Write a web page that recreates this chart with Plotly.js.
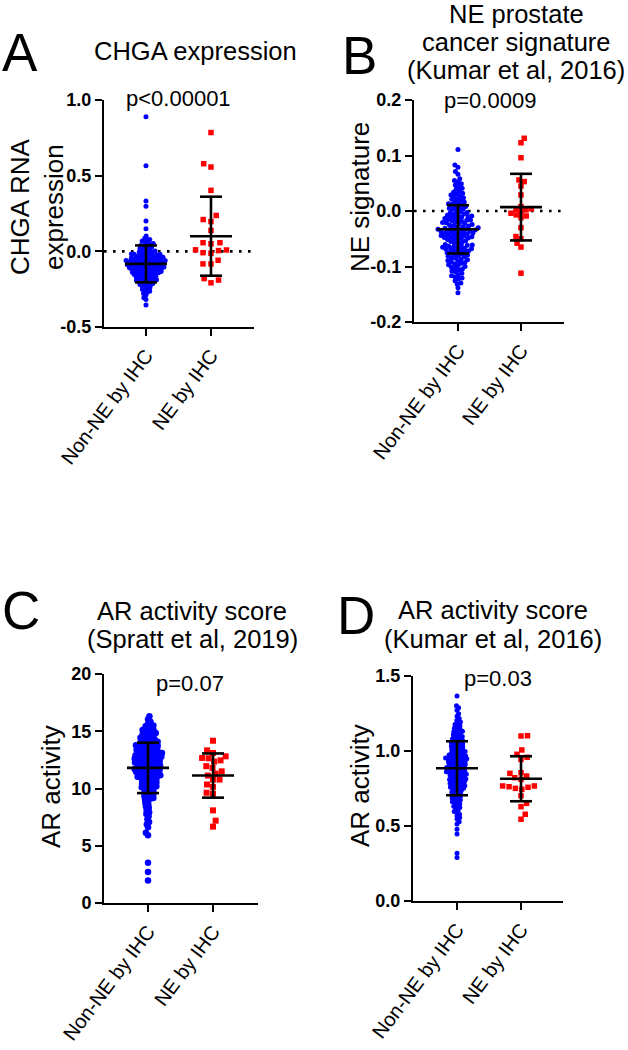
<!DOCTYPE html>
<html><head><meta charset="utf-8">
<script src="https://cdn.plot.ly/plotly-3.0.1.min.js"></script>
<style>html,body{margin:0;padding:0;background:#fff}#chart{width:628px;height:1050px}</style>
</head><body><div id="chart"></div>
<script>
// ---------------- DATA ----------------
const categories = ['Non-NE by IHC', 'NE by IHC'];

// Panel A: CHGA RNA expression
const chgaNonNE = [0.89, 0.566, 0.333, 0.298, 0.2, 0.149,
  0.102, 0.086, 0.079, 0.075, 0.068, 0.063, 0.057, 0.051,
  0.047, 0.045, 0.039, 0.038, 0.031, 0.027, 0.026, 0.019, 0.014, 0.013, 0.006, 0.002,
  -0.001, -0.005, -0.006, -0.011, -0.012, -0.013, -0.017, -0.02, -0.022, -0.024, -0.026, -0.028, -0.03,
  -0.033, -0.034, -0.036, -0.039, -0.04, -0.041, -0.044, -0.045, -0.047, -0.048, -0.049, -0.019,
  -0.051, -0.053, -0.054, -0.056, -0.057, -0.06, -0.061, -0.062, -0.064, -0.066, -0.067, -0.068,
  -0.07, -0.071, -0.073, -0.074, -0.076, -0.077, -0.078, -0.08, -0.081, -0.082, -0.084, -0.085,
  -0.088, -0.089, -0.09, -0.092, -0.093, -0.095, -0.096, -0.097, -0.098, -0.1, -0.069,
  -0.101, -0.103, -0.104, -0.105, -0.107, -0.108, -0.11, -0.112, -0.113, -0.114, -0.116, -0.118,
  -0.119, -0.121, -0.122, -0.124, -0.126, -0.127, -0.129, -0.13, -0.132, -0.134, -0.135, -0.137,
  -0.139, -0.141, -0.142, -0.144, -0.146, -0.147, -0.148, -0.111,
  -0.151, -0.153, -0.155, -0.157, -0.16, -0.162, -0.164, -0.166, -0.169, -0.171, -0.173, -0.175,
  -0.178, -0.181, -0.183, -0.186, -0.188, -0.19, -0.193, -0.195, -0.197, -0.199,
  -0.202, -0.205, -0.209, -0.212, -0.216, -0.219, -0.223, -0.227, -0.231, -0.236, -0.241, -0.246,
  -0.252, -0.258, -0.264, -0.271, -0.279, -0.288, -0.306, -0.318, -0.355];
const chgaNE = [0.785, 0.579, 0.557, 0.403, 0.237, 0.21, 0.197, 0.138, 0.057, 0.057, 0.05,
  0.009, 0.005, 0.01, -0.009, -0.013, -0.059, -0.083, -0.083, -0.18, -0.19, -0.208];
const chgaMean = [-0.083, 0.10];
const chgaSD = [0.122, 0.261];

// Panel B: NE prostate cancer signature
const neSigNonNE = [0.111, 0.083, 0.079, 0.071, 0.066,
  0.058, 0.055, 0.052, 0.049, 0.047, 0.044, 0.041, 0.039, 0.036, 0.034, 0.032, 0.031,
  0.029, 0.027, 0.026, 0.024, 0.022, 0.021, 0.019, 0.017, 0.016, 0.014, 0.012, 0.011,
  0.009, 0.008, 0.006, 0.005, 0.004, 0.003, 0.001, 0.013,
  -0.0012, -0.0025, -0.0031, -0.0048, -0.0056, -0.0069, -0.0077, -0.0088, -0.0104, -0.0112,
  -0.0121, -0.0135, -0.0142, -0.0153, -0.0161, -0.0176, -0.0183, -0.0194, -0.0207, -0.0213,
  -0.0226, -0.0232, -0.0245, -0.0251, -0.0263, -0.0271, -0.0286, -0.0293, -0.0098, -0.0168,
  -0.0302, -0.0309, -0.0315, -0.0322, -0.0328, -0.0335, -0.0341, -0.0347, -0.0356, -0.0362,
  -0.0368, -0.0375, -0.0383, -0.0389, -0.0396, -0.0404, -0.0411, -0.0418, -0.0424, -0.0433,
  -0.0441, -0.0447, -0.0455, -0.0462, -0.0469, -0.0477, -0.0486, -0.0493, -0.0501, -0.0512,
  -0.0523, -0.0534, -0.0548, -0.0561, -0.0577, -0.0592,
  -0.0603, -0.0611, -0.0619, -0.0628, -0.0637, -0.0645, -0.0652, -0.0661, -0.0669, -0.0678,
  -0.0686, -0.0694, -0.0703, -0.0712, -0.0721, -0.0733, -0.0742, -0.0751, -0.0763, -0.0772,
  -0.0784, -0.0795, -0.0806, -0.0817, -0.0829, -0.0841, -0.0853, -0.0866, -0.0879, -0.0894,
  -0.0905, -0.0917, -0.0928, -0.0942, -0.0955, -0.0969, -0.0983, -0.0998, -0.1014, -0.1031,
  -0.1047, -0.1063, -0.1082, -0.1101, -0.1123, -0.1148, -0.1165, -0.1187,
  -0.1206, -0.1224, -0.1258, -0.1297, -0.1315, -0.1382, -0.1471];
const neSigNE = [0.131, 0.123, 0.096, 0.056, 0.053, 0.045, 0.029, 0.008, 0.004, 0.003, 0.002,
  -0.002, -0.004, -0.007, -0.009, -0.012, -0.03, -0.046, -0.05, -0.058, -0.065, -0.112];
const neSigMean = [-0.033, 0.007];
const neSigSD = [0.0435, 0.06];

// Panel C: AR activity score (Spratt et al, 2019)
const arSprattNonNE = [16.3, 16.05, 15.82, 15.64, 15.51,
  15.44, 15.31, 15.26, 15.12, 15.08, 15.01,
  14.97, 14.85, 14.82, 14.71, 14.66, 14.63, 14.52, 14.44, 14.43, 14.31, 14.27, 14.19, 14.16, 14.08, 14.05, 14.01,
  13.98, 13.91, 13.87, 13.86, 13.77, 13.72, 13.7, 13.64, 13.61, 13.55, 13.54, 13.46, 13.44, 13.38,
  13.35, 13.33, 13.26, 13.22, 13.2, 13.13, 13.1, 13.08, 13.03, 13.0,
  12.97, 12.96, 12.9, 12.87, 12.86, 12.8, 12.77, 12.74, 12.73, 12.66, 12.64, 12.6, 12.59, 12.53, 12.51,
  12.47, 12.44, 12.43, 12.37, 12.34, 12.32, 12.27, 12.24, 12.22, 12.19, 12.14, 12.12, 12.07, 12.04, 12.01,
  11.98, 11.93, 11.91, 11.86, 11.84, 11.79, 11.77, 11.71, 11.68, 11.66, 11.6, 11.57, 11.55, 11.49,
  11.46, 11.44, 11.38, 11.35, 11.33, 11.27, 11.24, 11.22, 11.16, 11.14, 11.09, 11.07, 11.02, 11.0,
  10.95, 10.92, 10.85, 10.82, 10.77, 10.7, 10.67, 10.6, 10.57, 10.52, 10.45, 10.42, 10.37, 10.3,
  10.27, 10.2, 10.17, 10.1, 10.07, 10.01,
  9.96, 9.88, 9.79, 9.73, 9.63, 9.58, 9.48, 9.42, 9.32, 9.26, 9.17, 9.11, 9.02,
  8.91, 8.74, 8.62, 8.43, 8.31, 8.1, 7.92, 7.78, 7.58, 7.32, 7.08, 6.88, 6.62, 6.13,
  5.92, 3.52, 2.71, 1.96];
const arSprattNE = [14.17, 13.33, 13.1, 12.81, 12.67, 12.64, 12.46, 12.35, 11.95, 11.8, 11.5,
  11.3, 11.13, 10.78, 10.78, 10.35, 10.14, 9.63, 9.54, 8.09, 7.19, 6.67];
const arSprattMean = [11.8, 11.13];
const arSprattSD = [2.2, 1.93];

// Panel D: AR activity score (Kumar et al, 2016)
const arKumarNonNE = [1.367, 1.302, 1.288, 1.271, 1.249, 1.232,
  1.216, 1.204, 1.194, 1.185, 1.177, 1.166, 1.162, 1.151,
  1.146, 1.142, 1.131, 1.128, 1.119, 1.116, 1.108, 1.103, 1.097, 1.094, 1.086, 1.082, 1.077,
  1.071, 1.067, 1.06, 1.056, 1.051,
  1.047, 1.044, 1.039, 1.036, 1.031, 1.027, 1.024, 1.019, 1.016, 1.011, 1.007, 1.004, 0.999,
  0.996, 0.992, 0.988, 0.985, 0.981, 0.977, 0.974, 0.971, 0.967, 0.964, 0.96, 0.957, 0.955, 0.953, 0.951,
  0.948, 0.946, 0.943, 0.94, 0.937, 0.934, 0.931, 0.929, 0.926, 0.922, 0.919, 0.917, 0.913, 0.91,
  0.907, 0.904, 0.901, 0.898, 0.895, 0.893, 0.889, 0.886, 0.883, 0.88, 0.877, 0.874, 0.871, 0.868,
  0.865, 0.862, 0.859, 0.856, 0.854, 0.851,
  0.848, 0.845, 0.841, 0.838, 0.835, 0.831, 0.828, 0.824, 0.821, 0.817, 0.813, 0.81, 0.806, 0.803,
  0.799, 0.795, 0.792, 0.788, 0.784, 0.781, 0.777, 0.773, 0.769, 0.766, 0.762, 0.758, 0.755, 0.751,
  0.746, 0.741, 0.737, 0.732, 0.727, 0.722, 0.717, 0.713, 0.707, 0.702, 0.696, 0.691, 0.685, 0.679,
  0.673, 0.667, 0.661, 0.654,
  0.646, 0.638, 0.631, 0.623, 0.615, 0.606, 0.597, 0.588, 0.578, 0.567, 0.556,
  0.547, 0.528, 0.514, 0.478, 0.447, 0.318, 0.29];
const arKumarNE = [1.102, 1.10, 1.007, 0.978, 0.958, 0.944, 0.855, 0.851, 0.833, 0.822, 0.811,
  0.767, 0.767, 0.762, 0.758, 0.751, 0.745, 0.702, 0.651, 0.629, 0.578, 0.545];
const arKumarMean = [0.885, 0.815];
const arKumarSD = [0.18, 0.15];

const pValues = ['p<0.00001', 'p=0.0009', 'p=0.07', 'p=0.03'];
const panelLetters = ['A', 'B', 'C', 'D'];
const panelTitles = [['CHGA expression'], ['NE prostate', 'cancer signature', '(Kumar et al, 2016)'],
  ['AR activity score', '(Spratt et al, 2019)'], ['AR activity score', '(Kumar et al, 2016)']];
const yTitles = ['CHGA RNA<br>expression', 'NE signature', 'AR activity', 'AR activity'];
const yTickValsA = [-0.5, 0, 0.5, 1.0], yTickTextA = ['-0.5', '0.0', '0.5', '1.0'];
const yTickValsB = [-0.2, -0.1, 0, 0.1, 0.2], yTickTextB = ['-0.2', '-0.1', '0.0', '0.1', '0.2'];
const yTickValsC = [0, 5, 10, 15, 20], yTickTextC = ['0', '5', '10', '15', '20'];
const yTickValsD = [0, 0.5, 1.0, 1.5], yTickTextD = ['0.0', '0.5', '1.0', '1.5'];

// ---------------- LAYOUT / STYLE ----------------
const W = 628, H = 1050;
const FONT = 'Liberation Sans, Arial, sans-serif';
const panels = [
  {ax: '', data: [chgaNonNE, chgaNE], mean: chgaMean, sd: chgaSD, box: [104, 254, 100, 327], yr: [-0.5, 1.0], xr: [-0.646, 1.662],
   tv: yTickValsA, tt: yTickTextA, zero: true, dot: [5, 5.5], d: [2.8, 8],
   letter: [0, 'left', 53], title: [195, [51]], p: [178, 98], ytitle: [37, 207]},
  {ax: '2', data: [neSigNonNE, neSigNE], mean: neSigMean, sd: neSigSD, box: [414, 564, 100, 322], yr: [-0.2, 0.2], xr: [-0.698, 1.683],
   tv: yTickValsB, tt: yTickTextB, zero: true, dot: [5, 5.5], d: [3.8, 5.5],
   letter: [359, 'center', 55.5], title: [516, [14, 42, 70]], p: [490, 101], ytitle: [360, 197]},
  {ax: '3', data: [arSprattNonNE, arSprattNE], mean: arSprattMean, sd: arSprattSD, box: [104, 258, 674, 903], yr: [0, 20], xr: [-0.677, 1.692],
   tv: yTickValsC, tt: yTickTextC, zero: false, dot: [6.5, 6], d: [3.2, 6.5],
   letter: [0, 'left', 610.5], title: [192, [610.5, 639]], p: [190, 683.5], ytitle: [51, 787]},
  {ax: '4', data: [arKumarNonNE, arKumarNE], mean: arKumarMean, sd: arKumarSD, box: [413, 563, 676, 901], yr: [0, 1.5], xr: [-0.6875, 1.656],
   tv: yTickValsD, tt: yTickTextD, zero: false, dot: [5, 5.5], d: [3.0, 6.5],
   letter: [356, 'center', 615], title: [493, [610, 639]], p: [498, 678.5], ytitle: [360, 786]}
];

// beeswarm: horizontal pixel offsets so that points do not come closer than d px
function swarm(values, pxPerUnit, d) {
  const order = values.map((v, i) => i).sort((a, b) => values[a] - values[b]);
  const placed = [], off = new Array(values.length);
  order.forEach((i, k) => {
    const y = values[i] * pxPerUnit;
    const iv = [];
    placed.forEach(p => {
      const dy = y - p.y;
      if (Math.abs(dy) < d) { const w = Math.sqrt(d * d - dy * dy); iv.push([p.x - w, p.x + w]); }
    });
    const sgn = k % 2 ? 1 : -1;
    const cands = [0];
    iv.forEach(v => cands.push(v[0], v[1]));
    cands.sort((a, b) => (Math.abs(a) - Math.abs(b)) || (sgn * (b - a)));
    let x = 0;
    for (const c of cands) {
      if (iv.every(v => c <= v[0] + 1e-9 || c >= v[1] - 1e-9)) { x = c; break; }
    }
    placed.push({x: x, y: y});
    off[i] = x;
  });
  return off;
}

const traces = [], shapes = [], annotations = [];
const layout = {
  width: W, height: H, margin: {l: 0, r: 0, t: 0, b: 0},
  paper_bgcolor: '#fff', plot_bgcolor: '#fff', showlegend: false,
  font: {family: FONT, color: '#000'}
};
const colors = ['#0000FF', '#FF0000'];
const symbols = ['circle', 'square'];

panels.forEach((P, pi) => {
  const [x0, x1, y0, y1] = P.box;
  const pxPerY = (y1 - y0) / (P.yr[1] - P.yr[0]);
  const pxPerX = (x1 - x0) / (P.xr[1] - P.xr[0]);
  const xa = 'x' + P.ax, ya = 'y' + P.ax;
  P.data.forEach((vals, g) => {
    const off = swarm(vals, pxPerY, P.d[g]);
    traces.push({
      type: 'scatter', mode: 'markers', name: categories[g],
      x: off.map(o => g + o / pxPerX), y: vals, xaxis: xa, yaxis: ya,
      marker: {color: colors[g], symbol: symbols[g], size: P.dot[g], line: {width: 0}},
      hoverinfo: 'y'
    });
    const m = P.mean[g], s = P.sd[g];
    const hw = 21 / pxPerX, cw = 11 / pxPerX;
    const ln = {color: '#000', width: 2.6};
    shapes.push({type: 'line', xref: xa, yref: ya, x0: g - hw, x1: g + hw, y0: m, y1: m, line: ln});
    shapes.push({type: 'line', xref: xa, yref: ya, x0: g, x1: g, y0: m - s, y1: m + s, line: ln});
    shapes.push({type: 'line', xref: xa, yref: ya, x0: g - cw, x1: g + cw, y0: m + s, y1: m + s, line: ln});
    shapes.push({type: 'line', xref: xa, yref: ya, x0: g - cw, x1: g + cw, y0: m - s, y1: m - s, line: ln});
  });
  if (P.zero) {
    shapes.push({type: 'line', xref: xa, yref: ya, x0: P.xr[0], x1: P.xr[1] - 0.03, y0: 0, y1: 0,
      line: {color: '#000', width: 2.6, dash: '2.6px,6.4px'}, layer: 'below'});
  }
  layout['xaxis' + P.ax] = {
    domain: [x0 / W, x1 / W], range: P.xr, anchor: ya, fixedrange: true,
    tickvals: [0, 1], ticktext: categories, tickangle: -53,
    ticks: 'outside', ticklen: 7, tickwidth: 2, tickcolor: '#000',
    showline: true, linewidth: 2, linecolor: '#000', showgrid: false, zeroline: false,
    tickfont: {family: FONT, size: 20, color: '#000'}
  };
  layout['yaxis' + P.ax] = {
    domain: [1 - y1 / H, 1 - y0 / H], range: P.yr, anchor: xa, fixedrange: true,
    tickvals: P.tv, ticktext: P.tt,
    ticks: 'outside', ticklen: 7, tickwidth: 2, tickcolor: '#000',
    showline: true, linewidth: 2, linecolor: '#000', showgrid: false, zeroline: false,
    tickfont: {family: FONT, size: 18, color: '#000', weight: 'bold'}
  };
  // y-axis title (rotated text)
  annotations.push({text: yTitles[pi], xref: 'paper', yref: 'paper', x: P.ytitle[0] / W, y: 1 - P.ytitle[1] / H,
    xanchor: 'center', yanchor: 'middle', textangle: -90, showarrow: false,
    font: {family: FONT, size: 26, color: '#000'}});
  annotations.push({text: panelLetters[pi], xref: 'paper', yref: 'paper', x: P.letter[0] / W, y: 1 - P.letter[2] / H,
    xanchor: P.letter[1], yanchor: 'middle', showarrow: false, font: {family: FONT, size: 53, color: '#000'}});
  panelTitles[pi].forEach((t, li) => {
    annotations.push({text: t, xref: 'paper', yref: 'paper', x: P.title[0] / W, y: 1 - P.title[1][li] / H,
      xanchor: 'center', yanchor: 'middle', showarrow: false, font: {family: FONT, size: 25.5, color: '#000'}});
  });
  annotations.push({text: pValues[pi], xref: 'paper', yref: 'paper', x: P.p[0] / W, y: 1 - P.p[1] / H,
    xanchor: 'center', yanchor: 'middle', showarrow: false, font: {family: FONT, size: 22, color: '#000'}});
});
layout.shapes = shapes;
layout.annotations = annotations;

Plotly.newPlot('chart', traces, layout, {displayModeBar: false, staticPlot: true});
</script>
</body></html>
